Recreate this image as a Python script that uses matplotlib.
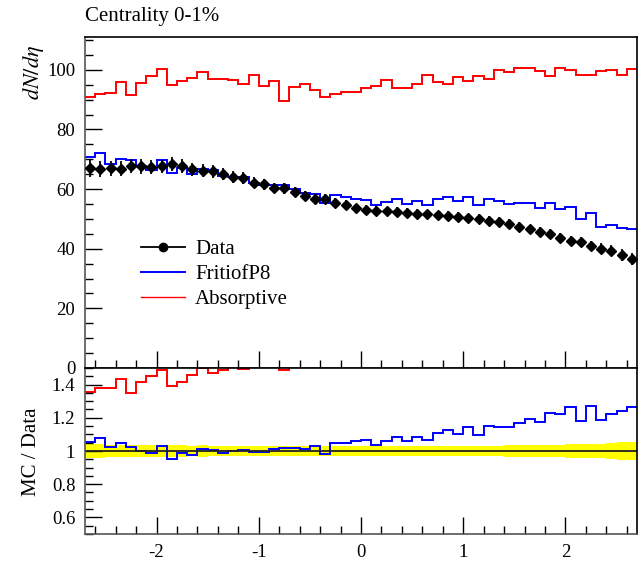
import numpy as np
import matplotlib
matplotlib.use("Agg")
import matplotlib.pyplot as plt
from matplotlib.lines import Line2D

plt.rcParams['font.family'] = ['Liberation Serif', 'DejaVu Serif']
plt.rcParams['mathtext.fontset'] = 'stix'
plt.rcParams['axes.unicode_minus'] = False

# ---- data ----
edges = np.round(np.arange(-2.7, 2.7001, 0.1), 2)

data = [67.0, 66.7, 67.0, 66.9, 67.8, 67.6, 67.3, 67.6, 68.4, 67.8,
        66.7, 66.1, 65.9, 65.0, 64.0, 63.7, 62.2, 61.6, 60.4, 60.2,
        59.0, 57.8, 56.6, 56.6, 55.3, 54.7, 53.5, 52.9, 52.7, 52.5,
        52.3, 51.9, 51.7, 51.5, 51.2, 51.1, 50.8, 50.2, 49.9, 49.4,
        48.9, 48.2, 47.4, 46.5, 45.7, 44.9, 43.6, 42.7, 42.2, 40.9,
        40.0, 39.3, 37.9, 36.7]

data_err = [2.8, 2.8, 2.5, 2.5, 2.4, 2.4, 2.4, 2.3, 2.3, 2.3,
            2.2, 2.2, 2.1, 2.1, 2.0, 2.0, 1.9, 1.9, 1.8, 1.8,
            1.8, 1.7, 1.7, 1.7, 1.6, 1.6, 1.6, 1.6, 1.6, 1.6,
            1.6, 1.6, 1.6, 1.6, 1.6, 1.6, 1.6, 1.6, 1.6, 1.6,
            1.6, 1.6, 1.6, 1.6, 1.6, 1.6, 1.7, 1.7, 1.7, 1.8,
            1.8, 1.9, 2.0, 2.0]

fritiof = [70.7, 72.0, 68.5, 70.2, 69.6, 67.8, 66.5, 69.6, 65.3, 67.1,
           65.1, 66.7, 66.4, 64.4, 64.0, 64.0, 61.9, 61.3, 61.3, 61.3,
           60.0, 58.6, 58.2, 55.5, 58.0, 57.2, 56.6, 56.3, 54.7, 55.7,
           56.6, 55.0, 56.1, 54.8, 56.6, 57.5, 56.0, 57.5, 54.7, 56.8,
           56.1, 55.1, 55.5, 55.4, 53.6, 55.3, 53.4, 54.1, 49.9, 52.1,
           47.4, 48.1, 47.1, 46.5]

absorptive = [90.8, 92.0, 92.3, 95.9, 91.6, 95.6, 97.9, 100.4, 95.0, 96.1,
              97.1, 99.2, 96.8, 96.8, 96.5, 95.3, 98.1, 94.7, 96.1, 89.4,
              94.1, 95.4, 93.1, 90.9, 92.0, 92.6, 92.4, 93.8, 94.7, 96.5,
              94.0, 94.0, 95.4, 98.4, 96.0, 95.1, 97.5, 96.2, 98.0, 96.9,
              99.8, 99.1, 100.5, 100.5, 99.5, 97.9, 100.5, 100.0, 98.4, 98.4,
              99.5, 100.1, 98.1, 100.3]

labels = ['Data', 'FritiofP8', 'Absorptive']
title = 'Centrality 0-1%'

data = np.array(data)
data_err = np.array(data_err)
fritiof = np.array(fritiof)
absorptive = np.array(absorptive)
centers = 0.5 * (edges[:-1] + edges[1:])

W, H = 641, 564
fig = plt.figure(figsize=(W / 100, H / 100), dpi=100)

L, R = 85 / W, 637 / W
ax = fig.add_axes([L, 1 - 368 / H, R - L, (368 - 37) / H])
rx = fig.add_axes([L, 1 - 534 / H, R - L, (534 - 368) / H], sharex=ax)

# main panel
ax.stairs(absorptive, edges, baseline=None, color='#ff0000', lw=1.4)
ax.stairs(fritiof, edges, baseline=None, color='#0000ff', lw=1.4)
ax.errorbar(centers, data, yerr=data_err, fmt='D', ms=5.5, color='black',
            elinewidth=1.3, capsize=0, zorder=5)

ax.set_xlim(-2.7, 2.7)
ax.set_ylim(0, 111)
ax.set_yticks([0, 20, 40, 60, 80, 100])
ax.set_yticks(np.arange(0, 111, 5), minor=True)
ax.tick_params(axis='x', labelbottom=False)

# ratio panel
rel = data_err / data
rx.stairs(1 + rel, edges, baseline=1 - rel, fill=True, color='#ffff00', lw=0)
rx.axhline(1.0, color='#222222', lw=1.3)
rx.stairs(absorptive / data, edges, baseline=None, color='#ff0000', lw=1.4)
rx.stairs(fritiof / data, edges, baseline=None, color='#0000ff', lw=1.4)
rx.set_ylim(0.5, 1.5)
rx.set_yticks([0.6, 0.8, 1.0, 1.2, 1.4])
rx.set_yticklabels(['0.6', '0.8', '1', '1.2', '1.4'])
rx.set_yticks(np.arange(0.5, 1.501, 0.05), minor=True)
rx.set_xticks([-2, -1, 0, 1, 2])
rx.set_xticks(np.arange(-2.6, 2.7, 0.2), minor=True)

for a in (ax, rx):
    a.tick_params(which='major', direction='in', length=12, width=1.0,
                  labelsize=13.5, left=True, bottom=True, top=False, right=False)
    a.tick_params(which='minor', direction='in', length=6, width=1.0,
                  left=True, bottom=True, top=False, right=False)
    for s in a.spines.values():
        s.set_linewidth(1.2)
    a.spines['left'].set_color('#555555')
    a.spines['bottom'].set_color('#555555')
rx.tick_params(axis='x', which='major', pad=7)
ax.tick_params(axis='y', which='major', pad=7)
rx.tick_params(axis='y', which='major', pad=7)

handles = [Line2D([], [], color='black', marker='o', ms=6, lw=1.3),
           Line2D([], [], color='#0000ff', lw=1.4),
           Line2D([], [], color='#ff0000', lw=1.0)]
ax.legend(handles, labels, loc='upper left', bbox_to_anchor=(0.101, 0.387),
          frameon=False, fontsize=15, handlelength=2.1, handletextpad=0.5,
          labelspacing=0.26, borderpad=0, borderaxespad=0)

fig.text(85 / W, 1 - 16 / H, title, ha='left', va='center', fontsize=15)
fig.text(34 / W, 1 - 45 / H, r'$dN/d\eta$', rotation=90, ha='center',
         va='top', fontsize=16)
fig.text(31 / W, 1 - 452 / H, 'MC / Data', rotation=90, ha='center',
         va='center', fontsize=15)

fig.savefig('out.png', dpi=100)
